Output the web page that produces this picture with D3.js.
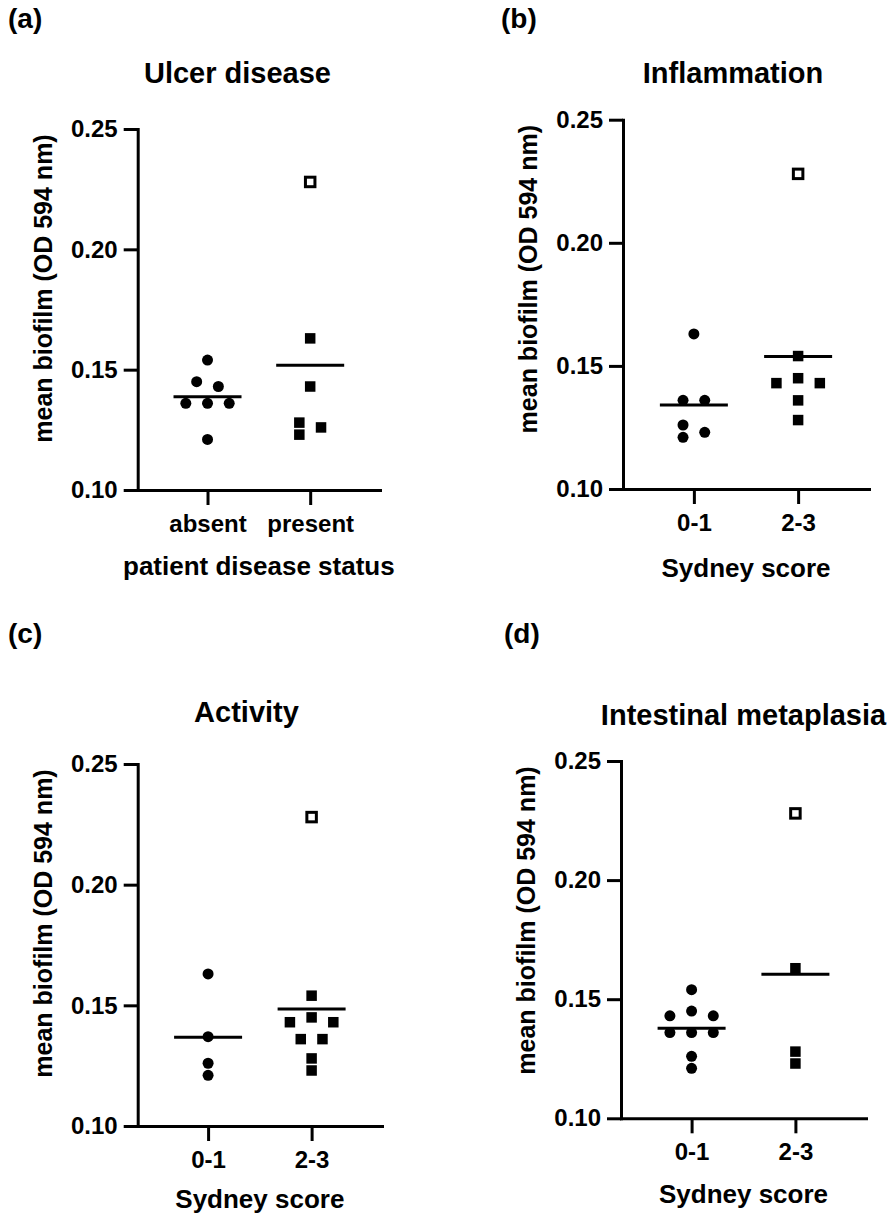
<!DOCTYPE html>
<html>
<head>
<meta charset="utf-8">
<script src="https://cdn.jsdelivr.net/npm/d3@7"></script>
<style>
  body { margin: 0; background: #fff; }
  svg text { font-family: "Liberation Sans", Arial, sans-serif; font-weight: bold; fill: #000; }
  .axis text { font-size: 24px; }
  .axis path, .axis line { stroke: #000; stroke-width: 3; }
  .axis path { stroke-linecap: square; }
</style>
</head>
<body>
<svg id="chart" width="889" height="1218"></svg>
<script>
// values: mean biofilm per patient (OD 594 nm)
var yTicks = [0.10, 0.15, 0.20, 0.25];
var ulcerGroups = ["absent", "present"];
var ulcerAbsent = [0.154, 0.145, 0.143, 0.136, 0.136, 0.136, 0.121];
var ulcerPresent = [0.228, 0.163, 0.143, 0.128, 0.126, 0.123];
var sydneyGroups = ["0-1", "2-3"];
var inflamLow = [0.163, 0.136, 0.136, 0.126, 0.123, 0.121];
var inflamHigh = [0.228, 0.154, 0.145, 0.143, 0.143, 0.136, 0.128];
var activityLow = [0.163, 0.137, 0.126, 0.121];
var activityHigh = [0.228, 0.154, 0.145, 0.143, 0.143, 0.136, 0.136, 0.128, 0.123];
var metaLow = [0.154, 0.145, 0.143, 0.143, 0.136, 0.136, 0.136, 0.126, 0.121];
var metaHigh = [0.228, 0.163, 0.128, 0.123];
// the one patient drawn as an open square
var hollowValue = 0.228;

var panels = [
  {tag: "(a)", title: "Ulcer disease", xTitle: "patient disease status",
   groups: ulcerGroups, values: [ulcerAbsent, ulcerPresent],
   left: 137.7, right: 380, top: 129, bottom: 490,
   tagX: 8, tagY: 28, titleX: 237.5, titleY: 83, xTitleY: 575},
  {tag: "(b)", title: "Inflammation", xTitle: "Sydney score",
   groups: sydneyGroups, values: [inflamLow, inflamHigh],
   left: 623, right: 869, top: 119.7, bottom: 489,
   tagX: 501, tagY: 28, titleX: 733, titleY: 83, xTitleY: 577},
  {tag: "(c)", title: "Activity", xTitle: "Sydney score",
   groups: sydneyGroups, values: [activityLow, activityHigh],
   left: 137.7, right: 382, top: 764, bottom: 1126,
   tagX: 8, tagY: 643, titleX: 246.5, titleY: 722, xTitleY: 1208},
  {tag: "(d)", title: "Intestinal metaplasia", xTitle: "Sydney score",
   groups: sydneyGroups, values: [metaLow, metaHigh],
   left: 621, right: 866, top: 761, bottom: 1118.3,
   tagX: 504, tagY: 643, titleX: 743.5, titleY: 725, xTitleY: 1203}
];

var svg = d3.select("#chart");
var spacing = 21.7;

// GraphPad-style scatter: near-equal values share a row, centred on the group
function layoutGroup(vals, y) {
  var pts = vals.map(function(v) { return {v: v, py: y(v), dx: 0}; });
  pts.sort(function(a, b) { return b.v - a.v; });
  var rows = [];
  pts.forEach(function(p) {
    var row = rows[rows.length - 1];
    if (row && p.py - row[0].py < 9) row.push(p); else rows.push([p]);
  });
  rows.forEach(function(row) {
    var n = row.length, slots = [], k;
    if (n % 2) {
      slots.push(0);
      for (k = 1; slots.length < n; k++) slots.push(-k, k);
    } else {
      for (k = 0.5; slots.length < n; k++) slots.push(-k, k);
    }
    row.forEach(function(p, i) { p.dx = slots[i] * spacing; });
  });
  // nudge lone points that still touch a neighbour
  rows.forEach(function(row) {
    if (row.length !== 1) return;
    var p = row[0];
    [0, -spacing / 2, spacing / 2].some(function(dx) {
      var hit = pts.some(function(q) {
        return q !== p && Math.abs(q.dx - dx) < spacing - 0.1 && Math.abs(q.py - p.py) < 11;
      });
      if (!hit) { p.dx = dx; return true; }
      return false;
    });
  });
  return pts;
}

function drawPanel(p) {
  var g = svg.append("g");
  var x = d3.scalePoint().domain(p.groups).range([p.left, p.right]).padding(0.68);
  var y = d3.scaleLinear().domain([0.10, 0.25]).range([p.bottom, p.top]);

  g.append("g").attr("class", "axis")
    .attr("transform", "translate(" + p.left + ",0)")
    .call(d3.axisLeft(y).tickValues(yTicks).tickFormat(d3.format(".2f"))
      .tickSize(14).tickSizeOuter(0).tickPadding(6));
  g.append("g").attr("class", "axis")
    .attr("transform", "translate(0," + p.bottom + ")")
    .call(d3.axisBottom(x).tickSize(15).tickSizeOuter(0).tickPadding(10));

  p.values.forEach(function(vals, gi) {
    var cx = x(p.groups[gi]);
    var pts = layoutGroup(vals, y);
    if (gi === 0) {
      g.selectAll(null).data(pts).enter().append("circle")
        .attr("cx", function(d) { return cx + d.dx; })
        .attr("cy", function(d) { return d.py; })
        .attr("r", 5.5)
        .attr("fill", "#000");
    } else {
      g.selectAll(null).data(pts).enter().append("rect")
        .attr("x", function(d) { return cx + d.dx - (d.v === hollowValue ? 4.75 : 5.25); })
        .attr("y", function(d) { return d.py - (d.v === hollowValue ? 4.75 : 5.25); })
        .attr("width", function(d) { return d.v === hollowValue ? 9.5 : 10.5; })
        .attr("height", function(d) { return d.v === hollowValue ? 9.5 : 10.5; })
        .attr("fill", function(d) { return d.v === hollowValue ? "#fff" : "#000"; })
        .attr("stroke", function(d) { return d.v === hollowValue ? "#000" : "none"; })
        .attr("stroke-width", 3);
    }
    var m = d3.mean(vals);
    g.append("line")
      .attr("x1", cx - 34).attr("x2", cx + 34)
      .attr("y1", y(m)).attr("y2", y(m))
      .attr("stroke", "#000").attr("stroke-width", 3);
  });

  g.append("text").attr("x", p.tagX).attr("y", p.tagY)
    .style("font-size", "28px").text(p.tag);
  g.append("text").attr("x", p.titleX).attr("y", p.titleY)
    .attr("text-anchor", "middle").style("font-size", "29px").text(p.title);
  g.append("text").attr("x", (p.left + p.right) / 2).attr("y", p.xTitleY)
    .attr("text-anchor", "middle").style("font-size", "26px").text(p.xTitle);
  g.append("text")
    .attr("transform", "translate(" + (p.left - 85.7) + "," + (p.top + 159.5) + ") rotate(-90)")
    .attr("text-anchor", "middle").style("font-size", "25px")
    .text("mean biofilm (OD 594 nm)");
}

panels.forEach(drawPanel);
</script>
</body>
</html>
